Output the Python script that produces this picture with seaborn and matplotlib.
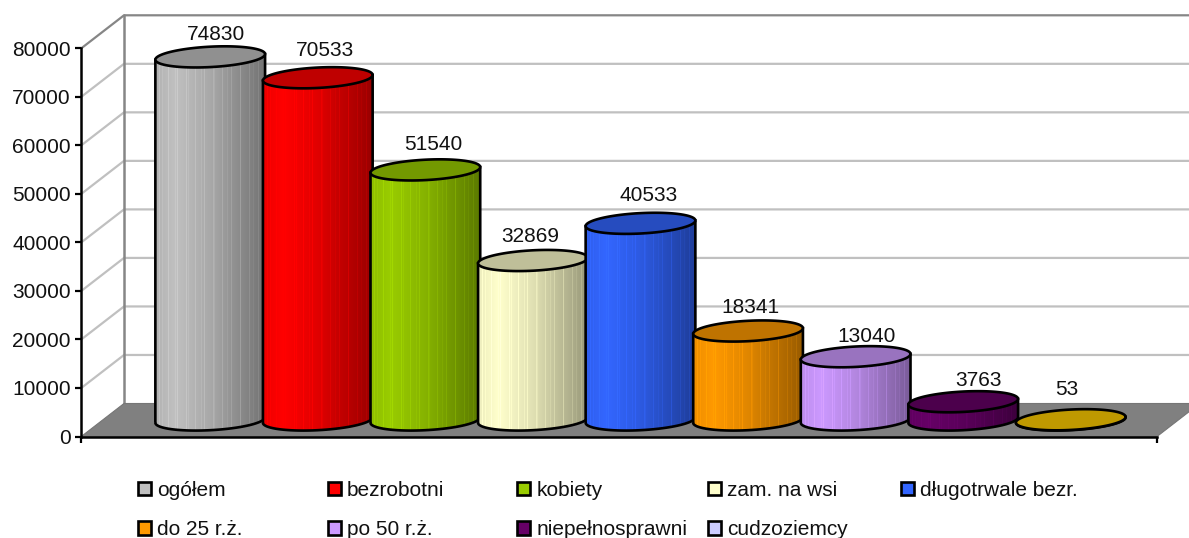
import numpy as np
import pandas as pd
import matplotlib
matplotlib.use("Agg")
import matplotlib.pyplot as plt
import seaborn as sns
from matplotlib.patches import Patch, PathPatch
from matplotlib.path import Path
from matplotlib.transforms import Affine2D, IdentityTransform

# values
categories = ["ogółem", "bezrobotni", "kobiety", "zam. na wsi", "długotrwale bezr.",
              "do 25 r.ż.", "po 50 r.ż.", "niepełnosprawni", "cudzoziemcy"]
values = [74830, 70533, 51540, 32869, 40533, 18341, 13040, 3763, 53]
body_colors = ["#C0C0C0", "#FF0000", "#99CC00", "#FFFFCC", "#3366FF",
               "#FF9900", "#CC99FF", "#660066", "#CCCCFF"]
cap_colors = ["#909090", "#BF0000", "#739900", "#BFBF99", "#264CBF",
              "#BF7300", "#9973BF", "#4C004C", "#BF9900"]
yticks = [0, 10000, 20000, 30000, 40000, 50000, 60000, 70000, 80000]
legend_columns = [[0, 5], [1, 6], [2, 7], [3, 8], [4]]
legend_x = [138, 328, 517, 708, 901]
label_nudge = [(6, -2), (7, 3), (8, 1), (-3, 0), (8, 4), (2, 0), (11, -4), (15, -3), (-4, 6)]

W, H = 1189, 538
sns.set_theme(style="white")
plt.rcParams["font.family"] = ["Liberation Sans", "DejaVu Sans"]
plt.rcParams["font.size"] = 15

fig = plt.figure(figsize=(W / 100, H / 100), dpi=100)
ax = fig.add_axes([81.3 / W, 1 - 436.5 / H, (1157 - 81.3) / W, (436.5 - 48.3) / H])
ax.patch.set_visible(False)

df = pd.DataFrame({"grupa": categories, "liczba": values})
sns.barplot(data=df, x="grupa", y="liczba", hue="grupa", palette=body_colors, order=categories,
            hue_order=categories, dodge=False, width=1.02, saturation=1, legend=False, ax=ax)

ax.set_xlim(-1, 9)
ax.set_ylim(0, 80000)
ax.autoscale(False)
ax.set_xlabel("")
ax.set_ylabel("")
ax.set_xticks([-1, 9])
ax.set_xticklabels([])
ax.set_yticks(yticks)
ax.set_yticklabels([str(v) for v in yticks])
ax.tick_params(axis="both", length=4.5, width=1.6, color="black", labelsize=15, pad=3, labelcolor="#111111", left=True, bottom=True)
for side in ["top", "right"]:
    ax.spines[side].set_visible(False)
for side in ["left", "bottom"]:
    ax.spines[side].set_color("black")
    ax.spines[side].set_linewidth(1.8)
    ax.spines[side].set_zorder(60)

DEPTH_X, DEPTH_Y = 42.7, 33
half_depth = ax.transData + Affine2D().translate(DEPTH_X / 2, DEPTH_Y / 2)
pixel = IdentityTransform()

# floor and walls are worked out in pixels from the axis corners
x0, y0 = ax.transData.transform((-1, 0))
x1, _ = ax.transData.transform((9, 0))
floor = Path([(x0, y0), (x0 + DEPTH_X, y0 + DEPTH_Y), (x1 + DEPTH_X, y0 + DEPTH_Y), (x1, y0), (x0, y0)])
ax.add_patch(PathPatch(floor, facecolor="#808080", edgecolor="#767676", lw=0.8, transform=pixel, zorder=1, clip_on=False))

for v in yticks[1:]:
    _, yv = ax.transData.transform((-1, v))
    wall_color = "#868686" if v == yticks[-1] else "#C0C0C0"
    ax.plot([x0, x0 + DEPTH_X, W + 5], [yv, yv + DEPTH_Y, yv + DEPTH_Y], color=wall_color, lw=1.6,
            transform=pixel, zorder=0.5, clip_on=False, solid_capstyle="butt")
_, ytop = ax.transData.transform((-1, yticks[-1]))
ax.plot([x0 + DEPTH_X] * 2, [y0 + DEPTH_Y, ytop + DEPTH_Y], color="#868686", lw=1.8, transform=pixel, zorder=0.8, clip_on=False)

# turn the seaborn bars into cylinders standing in the middle of the floor
to_data = 80000 / (436.5 - 48.3)
b_y = 10.2 * to_data
skew = 2.8 * to_data
t = np.linspace(0, 2 * np.pi, 121)
for i, (bar, cap) in enumerate(zip(ax.patches, cap_colors)):
    left, w, h = bar.get_x(), bar.get_width(), bar.get_height()
    cx, a = left + w / 2, w / 2
    ex, ey = cx + a * np.cos(t), b_y * np.sin(t) + skew * np.cos(t)
    z = 10 + i * 2

    lower = (t >= np.pi) & (t <= 2 * np.pi)
    body = np.vstack([np.column_stack([ex[lower], ey[lower]]),
                      np.column_stack([ex[lower][::-1], h + skew * np.cos(t[lower][::-1])])])
    body_path = Path(np.vstack([body, body[0]]))

    bar.set_transform(half_depth)
    bar.set_clip_path(body_path, half_depth)
    bar.set_clip_box(fig.bbox)
    bar.set_edgecolor("none")
    bar.set_zorder(z)

    n = 110
    pos = np.linspace(0, 1, n)
    shade = np.interp(pos, [0, 0.18, 0.5, 1], [0.93, 1.0, 0.88, 0.6])
    shade[4::9] += 0.07
    shade[7::13] += 0.04
    rgb = np.array(matplotlib.colors.to_rgb(body_colors[i]))
    strip = np.clip(rgb[None, None, :] * shade[None, :, None], 0, 1)
    im = ax.imshow(strip, extent=(cx - a, cx + a, -b_y * 1.5, h), aspect="auto", zorder=z, origin="upper",
                   transform=half_depth, interpolation="nearest")
    im.set_clip_path(body_path, half_depth)
    im.set_clip_box(fig.bbox)

    ax.add_patch(PathPatch(body_path, facecolor="none", edgecolor="black", lw=1.9, transform=half_depth, zorder=z + 0.5, clip_on=False))
    top = Path(np.column_stack([ex, ey + h]))
    ax.add_patch(PathPatch(top, facecolor=cap, edgecolor="black", lw=1.9, transform=half_depth, zorder=z + 1, clip_on=False))

    nudge = half_depth + Affine2D().translate(label_nudge[i][0], 24 + label_nudge[i][1])
    ax.text(cx, h, str(values[i]), transform=nudge, ha="center", va="center", fontsize=15, color="#111111", zorder=50, clip_on=False)

ax.set_xlim(-1, 9)
ax.set_ylim(0, 80000)

# one small legend per column, the columns of the original have equal pitch
for col, xpos in zip(legend_columns, legend_x):
    handles = [Patch(facecolor=body_colors[j], edgecolor="black", lw=1.9) for j in col]
    labels = [categories[j] for j in col]
    fig.legend(handles, labels, loc="upper left", bbox_to_anchor=(xpos / W, 1 - 481 / H), frameon=False,
               fontsize=15, borderpad=0, borderaxespad=0, handlelength=0.62, handleheight=0.62,
               handletextpad=0.3, labelspacing=0.97, labelcolor="#111111")

fig.savefig("out.png", dpi=100)
plt.close(fig)
